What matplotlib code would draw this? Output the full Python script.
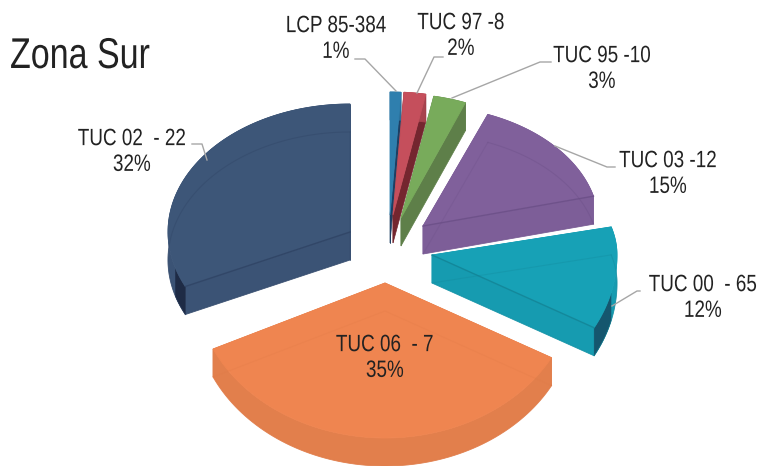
import numpy as np
import matplotlib
matplotlib.use("Agg")
import matplotlib.pyplot as plt
from matplotlib.patheffects import AbstractPathEffect
from matplotlib.transforms import Affine2D

names = ["LCP 85-384", "TUC 97 -8", "TUC 95 -10", "TUC 03 -12", "TUC 00  - 65", "TUC 06  - 7", "TUC 02  - 22"]
shares = [1, 2, 3, 15, 12, 35, 32]

top_colors = ["#2F7FAE", "#C54F5C", "#78AB5B", "#80609B", "#17A1B6", "#EF8550", "#3D5678"]
radial_colors = ["#1D3F63", "#74262F", "#5E7F49", "#7D5E98", "#169BB0", "#E07A47", "#3B5375"]
arc_colors = ["#2A6F99", "#A8434E", "#5E7F49", "#7D5E98", "#169BB0", "#E27F4C", "#3B5375"]
seam_colors = ["#1D3F63", "#74262F", "#5E7F49", "#6A4E86", "#128294", "#E07A47", "#2E4263"]
sliver_color = ["#1E2B45" if i == 6 else "#15566E" for i in range(7)]
sliver_span = [None, None, None, None, (0.68, 1.0), None, (0.0, 0.08)]

# layout of the exploded slices, in pixels: apex, x radius, back and front y radii
apex_x = [390, 393, 401, 423, 432, 385, 350]
apex_y = [215, 215, 218, 226, 255, 283, 232]
rad_x = [175, 175, 175, 176, 185, 190, 182]
rad_back = [123, 123, 124, 120, 113, 155, 128]
rad_front = [123, 123, 124, 120, 151, 155, 128]
depth = 28

label_pos = [(336, 39), (461, 36), (602, 69), (668, 174), (703, 298), (385, 358), (132, 152)]
label_shift = [0, 0, 0, 0, 14, 0, 0]
leaders = [
    [(355, 59), (365, 59), (396, 91)],
    [(443, 57), (434, 57), (417, 93)],
    [(551, 62), (540, 62), (452, 98)],
    [(615, 167), (607, 167), (555, 146)],
    [(640, 291), (637, 291), (612, 306)],
    [(192, 144), (202, 144), (207, 160)],
]


class Condense(AbstractPathEffect):
    """Narrow each text line about its own centre (no condensed font is installed)."""

    def __init__(self, factor, anchor_left=False, shift=0):
        super().__init__()
        self.factor = factor
        self.anchor_left = anchor_left
        self.shift = shift

    def draw_path(self, renderer, gc, tpath, affine, rgbFace=None):
        xs = affine.transform(tpath.vertices)[:, 0]
        if xs.size == 0:
            return
        cx = xs.min() if self.anchor_left else 0.5 * (xs.min() + xs.max())
        narrow = affine + Affine2D().translate(-cx, 0).scale(self.factor, 1).translate(cx + self.shift, 0)
        renderer.draw_path(gc, tpath, narrow, rgbFace)


plt.rcParams["font.family"] = ["Liberation Sans", "DejaVu Sans"]
fig = plt.figure(figsize=(7.6, 4.66), dpi=100)
ax = fig.add_axes([0, 0, 1, 1])
ax.set_xlim(0, 760)
ax.set_ylim(466, 0)
ax.axis("off")

total = sum(shares)
edges = np.cumsum([0] + shares) / total * 2 * np.pi


def arc(i, t):
    c = np.cos(t)
    b = np.where(c > 0, rad_back[i], rad_front[i])
    return apex_x[i] + rad_x[i] * np.sin(t), apex_y[i] - b * c


for i in range(len(shares)):
    t = np.linspace(edges[i], edges[i + 1], 80)
    x, y = arc(i, t)
    x0, y0 = apex_x[i], apex_y[i]
    # radial walls
    for k in (0, -1):
        ax.fill([x0, x[k], x[k], x0], [y0, y[k], y[k] + depth, y0 + depth],
                color=radial_colors[i], lw=0.5, zorder=2 + i * 0.01)
    # outer wall
    ax.fill(np.r_[x, x[::-1]], np.r_[y, y[::-1] + depth],
            color=arc_colors[i], lw=0.5, zorder=2.5 + i * 0.01)
    if sliver_span[i]:
        a, b = sliver_span[i]
        ia, ib = int(a * 79), int(b * 79) + 1
        ax.fill(np.r_[x[ia:ib], x[ia:ib][::-1]], np.r_[y[ia:ib], y[ia:ib][::-1] + depth],
                color=sliver_color[i], lw=0.3, zorder=2.6 + i * 0.01)
    # top face
    ax.fill(np.r_[x0, x], np.r_[y0, y], facecolor=top_colors[i],
            edgecolor=top_colors[i], lw=0.6, zorder=3 + i * 0.01)
    # the far outline of the slab, faintly visible through the face
    if shares[i] >= 12:
        ax.plot(np.r_[x[0], x0, x[-1]], np.r_[y[0], y0, y[-1]] + depth,
                color=seam_colors[i], lw=0.8, alpha=0.25, zorder=3.5)
        ax.plot(x, y + depth, color=seam_colors[i], lw=0.8, alpha=0.35, zorder=3.5)
    # seam between top and the visible cut wall
    if i in (3, 4, 6):
        k = 0 if i == 6 else -1
        ax.plot([x0, x[k]], [y0, y[k]], color=seam_colors[i], lw=1, alpha=0.8, zorder=3.6)

for pts in leaders:
    px, py = zip(*pts)
    ax.plot(px, py, color="#A6A6A6", lw=1.0, zorder=4)

for n, s, (lx, ly), sh in zip(names, shares, label_pos, label_shift):
    ax.text(lx - sh, ly, f"{n}\n{s}%", ha="center", va="center", fontsize=17,
            color="#222222", linespacing=1.22, zorder=5,
            path_effects=[Condense(0.8, shift=sh)])

ax.text(10, 57, "Zona Sur", ha="left", va="center", fontsize=31, color="#222222", zorder=5,
        path_effects=[Condense(0.79, anchor_left=True)])

fig.savefig("out.png", dpi=100)
